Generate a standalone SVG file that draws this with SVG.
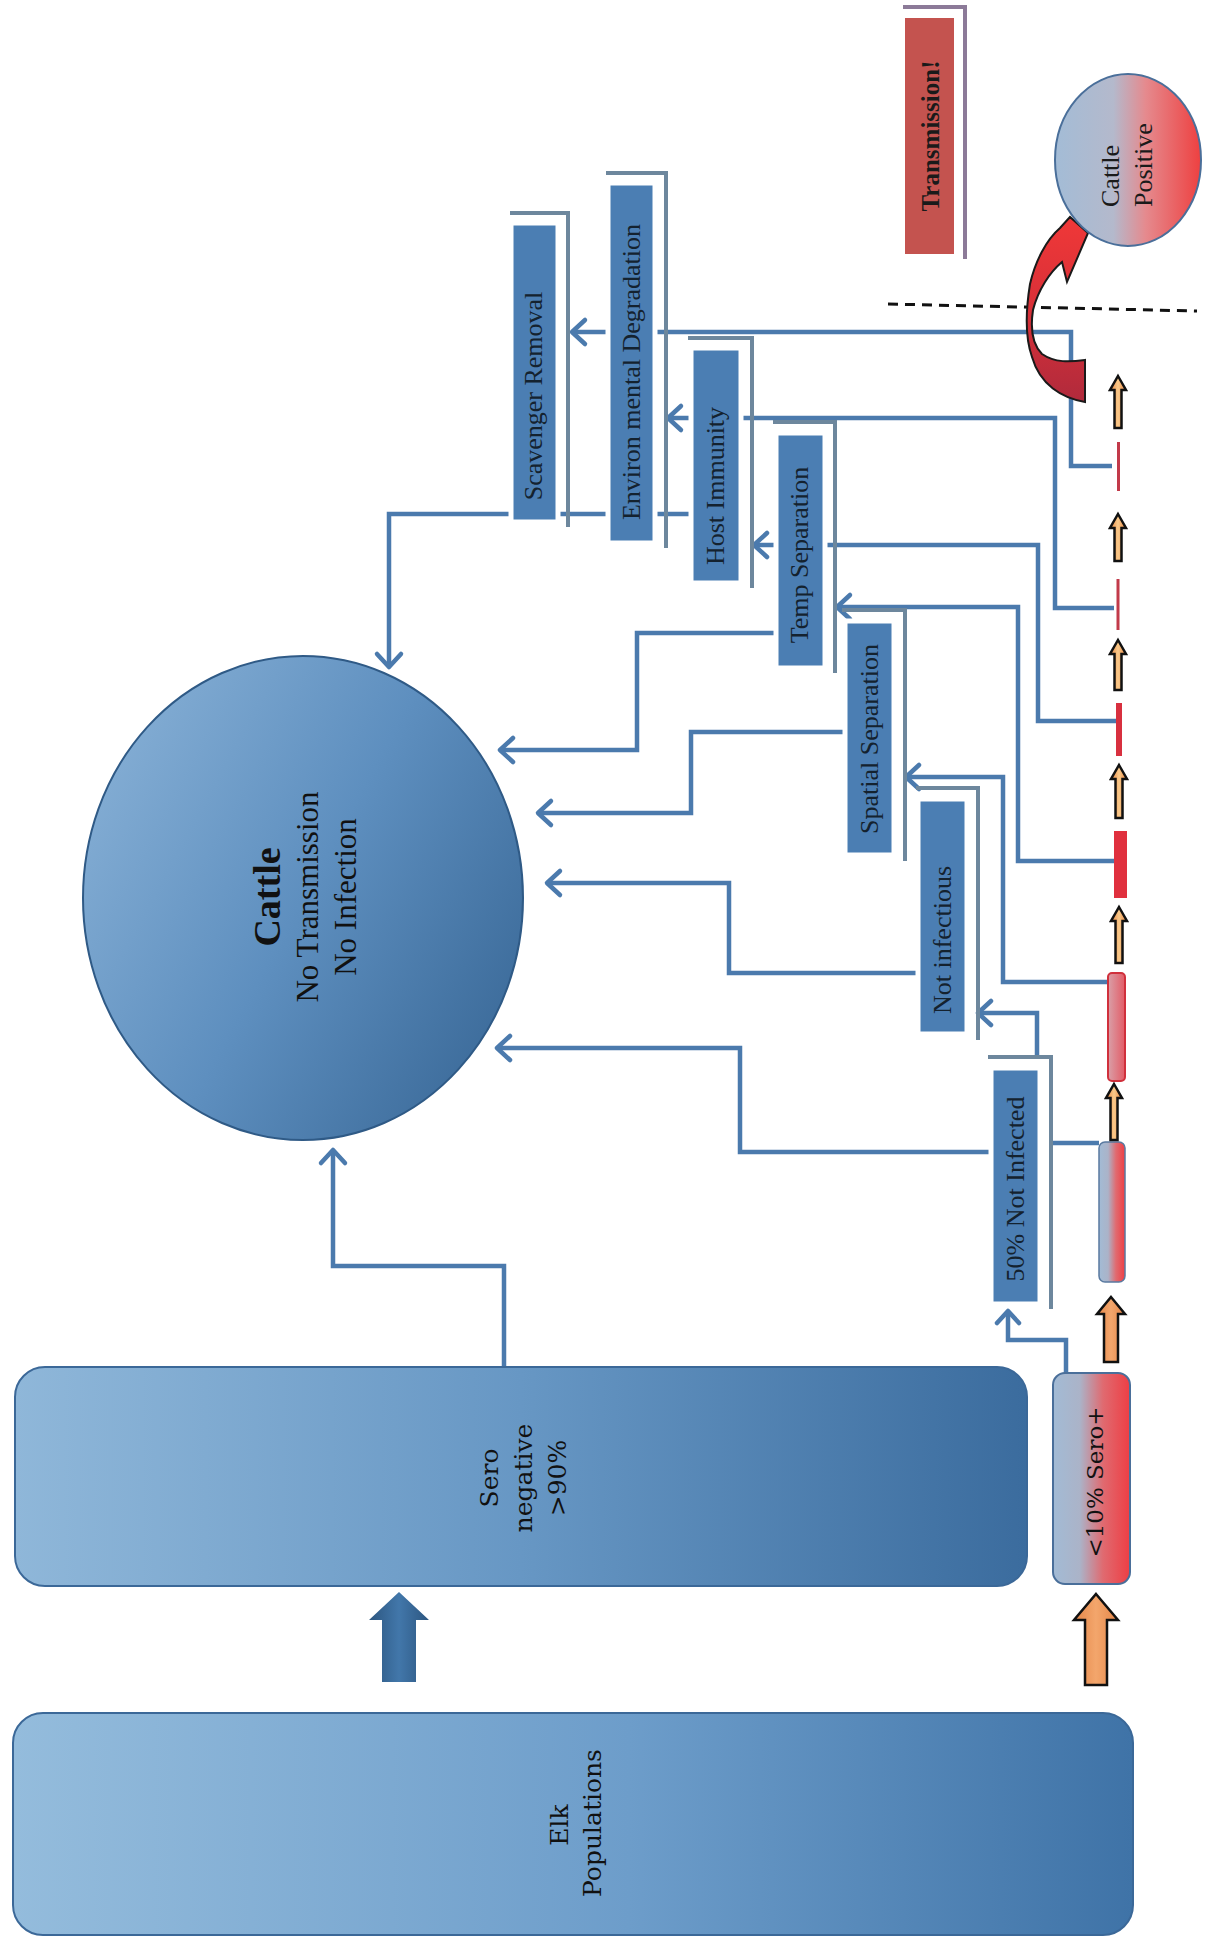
<svg xmlns="http://www.w3.org/2000/svg" width="1217" height="1940" viewBox="0 0 1217 1940">
<defs>
<linearGradient id="elkG" x1="0" y1="0" x2="1" y2="0"><stop offset="0" stop-color="#94bcdc"/><stop offset="0.55" stop-color="#6d9dca"/><stop offset="1" stop-color="#3f73a7"/></linearGradient>
<linearGradient id="seroG" x1="0" y1="0" x2="1" y2="0"><stop offset="0" stop-color="#8fb7d9"/><stop offset="0.5" stop-color="#6797c4"/><stop offset="1" stop-color="#3b6c9e"/></linearGradient>
<linearGradient id="cattleG" x1="0" y1="0.2" x2="1" y2="0.8"><stop offset="0" stop-color="#86afd5"/><stop offset="0.5" stop-color="#5e8fbf"/><stop offset="1" stop-color="#3a6998"/></linearGradient>
<linearGradient id="posG" x1="0" y1="0" x2="1" y2="0"><stop offset="0" stop-color="#a3bcd6"/><stop offset="0.4" stop-color="#b4b9cc"/><stop offset="0.62" stop-color="#e58a8e"/><stop offset="1" stop-color="#ee4040"/></linearGradient>
<linearGradient id="sposG" x1="0" y1="0" x2="1" y2="0"><stop offset="0" stop-color="#a2bbd5"/><stop offset="0.35" stop-color="#abb3c8"/><stop offset="0.65" stop-color="#e06a70"/><stop offset="1" stop-color="#ee3e44"/></linearGradient>
<linearGradient id="pinkG" x1="0" y1="0" x2="1" y2="0"><stop offset="0" stop-color="#d9a0a8"/><stop offset="1" stop-color="#e35b66"/></linearGradient>
<linearGradient id="redArr" x1="0" y1="0" x2="0" y2="1"><stop offset="0" stop-color="#f03838"/><stop offset="0.5" stop-color="#d83038"/><stop offset="1" stop-color="#b02a3c"/></linearGradient>
<linearGradient id="orG" x1="0" y1="0" x2="1" y2="0"><stop offset="0" stop-color="#e8843f"/><stop offset="0.5" stop-color="#f9c98a"/><stop offset="1" stop-color="#e8843f"/></linearGradient>
<linearGradient id="orBig" x1="0" y1="0" x2="1" y2="0"><stop offset="0" stop-color="#e58648"/><stop offset="0.5" stop-color="#f3a66c"/><stop offset="1" stop-color="#e58648"/></linearGradient>
<linearGradient id="blueArr" x1="0" y1="0" x2="1" y2="0"><stop offset="0" stop-color="#2c5680"/><stop offset="0.5" stop-color="#4277aa"/><stop offset="1" stop-color="#2c5680"/></linearGradient>
</defs>
<style>
.box{fill:#4b7eb3;stroke:#ffffff;stroke-width:5}
.brk{fill:none;stroke:#6d879d;stroke-width:4}
.con{fill:none;stroke:#4b7aad;stroke-width:4.5}
.chev{fill:none;stroke:#4b7aad;stroke-width:4.5;stroke-linecap:round;stroke-linejoin:round}
.lbl{font-family:"Liberation Serif",serif;font-size:26px;fill:#14222f;text-anchor:middle}
.big{font-family:"DejaVu Serif",serif;font-size:25px;fill:#111;text-anchor:middle}
.sarr{fill:url(#orG);stroke:#111;stroke-width:2.5}
</style>
<rect width="1217" height="1940" fill="#ffffff"/>

<g id="connectors">
<path class="con" d="M690 514 H389 V664"/>
<path class="chev" d="M377 654 L389 667 L401 654"/>
<path class="con" d="M776 633 H637 V750 H502"/>
<path class="chev" d="M513 738 L500 750 L513 762"/>
<path class="con" d="M845 732 H691 V813 H540"/>
<path class="chev" d="M551 801 L538 813 L551 825"/>
<path class="con" d="M917 973 H729 V883 H549"/>
<path class="chev" d="M560 871 L547 883 L560 895"/>
<path class="con" d="M990 1152 H740 V1048 H499"/>
<path class="chev" d="M510 1036 L497 1048 L510 1060"/>
<path class="con" d="M504 1368 V1266 H333 V1152"/>
<path class="chev" d="M321 1163 L333 1150 L345 1163"/>
<path class="con" d="M1066 1380 V1340 H1008 V1313"/>
<path class="chev" d="M997 1323 L1008 1311 L1019 1323"/>
<path class="con" d="M1099 1143 H1051"/>
<path class="con" d="M1037 1057 V1013 H980"/>
<path class="chev" d="M991 1001 L978 1013 L991 1025"/>
<path class="con" d="M1108 982 H1003 V777 H908"/>
<path class="chev" d="M919 765 L906 777 L919 789"/>
<path class="con" d="M1114 861 H1018 V607 H839"/>
<path class="chev" d="M850 595 L837 607 L850 619"/>
<path class="con" d="M1116 721 H1038 V545 H756"/>
<path class="chev" d="M767 533 L754 545 L767 557"/>
<path class="con" d="M1114 608 H1055 V418 H670"/>
<path class="chev" d="M681 406 L668 418 L681 430"/>
<path class="con" d="M1112 466 H1071 V332 H574"/>
<path class="chev" d="M585 320 L572 332 L585 344"/>
</g>

<g id="elk">
<rect x="13" y="1713" width="1120" height="222" rx="30" fill="url(#elkG)" stroke="#3b6898" stroke-width="2"/>
<text class="big" transform="translate(568,1825) rotate(-90)">Elk</text>
<text class="big" transform="translate(601,1823) rotate(-90)">Populations</text>
</g>

<g id="dark-arrow">
<path d="M399 1592 L429 1620 L416 1620 L416 1682 L382 1682 L382 1620 L369 1620 Z" fill="url(#blueArr)"/>
</g>

<g id="sero-negative">
<rect x="15" y="1367" width="1012" height="219" rx="30" fill="url(#seroG)" stroke="#3b6898" stroke-width="2"/>
<text class="big" transform="translate(498,1478) rotate(-90)">Sero</text>
<text class="big" transform="translate(532,1478) rotate(-90)">negative</text>
<text class="big" transform="translate(566,1478) rotate(-90)">&gt;90%</text>
</g>

<g id="sero-positive">
<rect x="1053" y="1373" width="77" height="211" rx="12" fill="url(#sposG)" stroke="#4a6f9a" stroke-width="2"/>
<text class="big" style="font-size:23px" transform="translate(1103,1482) rotate(-90)">&lt;10% Sero+</text>
</g>

<g id="cattle">
<ellipse cx="303" cy="898" rx="220" ry="242" fill="url(#cattleG)" stroke="#2f5a86" stroke-width="2"/>
<text transform="translate(280,897) rotate(-90)" style="font-family:'Liberation Serif',serif;font-size:38px;font-weight:bold;fill:#111;text-anchor:middle">Cattle</text>
<text transform="translate(318,897) rotate(-90)" style="font-family:'Liberation Serif',serif;font-size:31px;fill:#111;text-anchor:middle">No Transmission</text>
<text transform="translate(356,897) rotate(-90)" style="font-family:'Liberation Serif',serif;font-size:31px;fill:#111;text-anchor:middle">No Infection</text>
</g>

<g id="scavenger">
<rect class="box" x="511" y="223" width="47" height="299"/>
<path class="brk" d="M510 213 H568 V527"/>
<text class="lbl" transform="translate(542,396) rotate(-90)">Scavenger Removal</text>
</g>
<g id="environmental">
<rect class="box" x="608" y="183" width="47" height="360"/>
<path class="brk" d="M606 173 H666 V548"/>
<text class="lbl" transform="translate(640,372) rotate(-90)">Environ mental Degradation</text>
</g>
<g id="host">
<rect class="box" x="691" y="348" width="50" height="235"/>
<path class="brk" d="M688 338 H752 V588"/>
<text class="lbl" transform="translate(724,486) rotate(-90)">Host Immunity</text>
</g>
<g id="temp">
<rect class="box" x="776" y="433" width="49" height="235"/>
<path class="brk" d="M773 422 H835 V673"/>
<text class="lbl" transform="translate(808,555) rotate(-90)">Temp Separation</text>
</g>
<g id="spatial">
<rect class="box" x="845" y="621" width="49" height="234"/>
<path class="brk" d="M842 610 H905 V861"/>
<text class="lbl" transform="translate(878,739) rotate(-90)">Spatial Separation</text>
</g>
<g id="not-infectious">
<rect class="box" x="918" y="799" width="49" height="235"/>
<path class="brk" d="M916 788 H978 V1040"/>
<text class="lbl" transform="translate(951,940) rotate(-90)">Not infectious</text>
</g>
<g id="not-infected">
<rect class="box" x="991" y="1068" width="49" height="236"/>
<path class="brk" d="M988 1057 H1051 V1309"/>
<text class="lbl" transform="translate(1024,1189) rotate(-90)">50% Not Infected</text>
</g>

<g id="transmission">
<rect x="905" y="18" width="49" height="236" fill="#c4534f"/>
<path d="M903 7 H965 V259" fill="none" stroke="#8c7a98" stroke-width="4"/>
<text transform="translate(939,136) rotate(-90)" style="font-family:'Liberation Serif',serif;font-size:25px;font-weight:bold;fill:#1a1a1a;text-anchor:middle">Transmission!</text>
</g>

<g id="threshold">
<path d="M888 304 L1197 311" stroke="#111" stroke-width="3" stroke-dasharray="10 7" fill="none"/>
</g>

<g id="curved-arrow">
<path d="M1085 360 L1085 402 C1062 398 1040 385 1032 357 C1026 340 1025 315 1030 284 C1035 262 1046 240 1060 228 L1070 217 L1088 233 L1067 282 L1062 262 C1050 272 1038 290 1033 310 C1030 330 1033 345 1042 354 C1055 363 1070 362 1085 360 Z" fill="url(#redArr)" stroke="#1a1a1a" stroke-width="2"/>
</g>

<g id="cattle-positive">
<ellipse cx="1128" cy="160" rx="73" ry="86" fill="url(#posG)" stroke="#4a6f9a" stroke-width="2"/>
<text transform="translate(1119,207) rotate(-90)" style="font-family:'Liberation Serif',serif;font-size:26px;fill:#1a1a1a">Cattle</text>
<text transform="translate(1152,207) rotate(-90)" style="font-family:'Liberation Serif',serif;font-size:26px;fill:#1a1a1a">Positive</text>
</g>

<g id="progression">
<rect x="1099" y="1142" width="26" height="140" rx="6" fill="url(#sposG)" stroke="#5a7aa0" stroke-width="1.5"/>
<rect x="1108" y="973" width="17" height="108" rx="4" fill="url(#pinkG)" stroke="#d0303c" stroke-width="2"/>
<rect x="1114" y="831" width="13" height="67" fill="#e0303e"/>
<rect x="1116" y="703" width="6" height="53" fill="#d8303f"/>
<rect x="1116.5" y="579" width="3" height="51" fill="#c23a4a"/>
<rect x="1117" y="442" width="3" height="49" fill="#c23a4a"/>
<path class="sarr" d="M1118 376 L1126 390 L1121.5 390 L1121.5 428 L1114.5 428 L1114.5 390 L1110 390 Z"/>
<path class="sarr" d="M1118 514 L1126 528 L1121.5 528 L1121.5 561 L1114.5 561 L1114.5 528 L1110 528 Z"/>
<path class="sarr" d="M1118 640 L1126 654 L1121.5 654 L1121.5 690 L1114.5 690 L1114.5 654 L1110 654 Z"/>
<path class="sarr" d="M1119 765 L1127 779 L1122.5 779 L1122.5 818 L1115.5 818 L1115.5 779 L1111 779 Z"/>
<path class="sarr" d="M1119 907 L1127 921 L1122.5 921 L1122.5 963 L1115.5 963 L1115.5 921 L1111 921 Z"/>
<path class="sarr" d="M1114 1084 L1122 1098 L1117.5 1098 L1117.5 1140 L1110.5 1140 L1110.5 1098 L1106 1098 Z"/>
<path d="M1111 1297 L1125 1314 L1118 1314 L1118 1362 L1104 1362 L1104 1314 L1097 1314 Z" fill="url(#orBig)" stroke="#111" stroke-width="2.5"/>
<path d="M1096 1594 L1118 1620 L1107 1620 L1107 1685 L1085 1685 L1085 1620 L1074 1620 Z" fill="url(#orBig)" stroke="#111" stroke-width="2.5"/>
</g>
</svg>
